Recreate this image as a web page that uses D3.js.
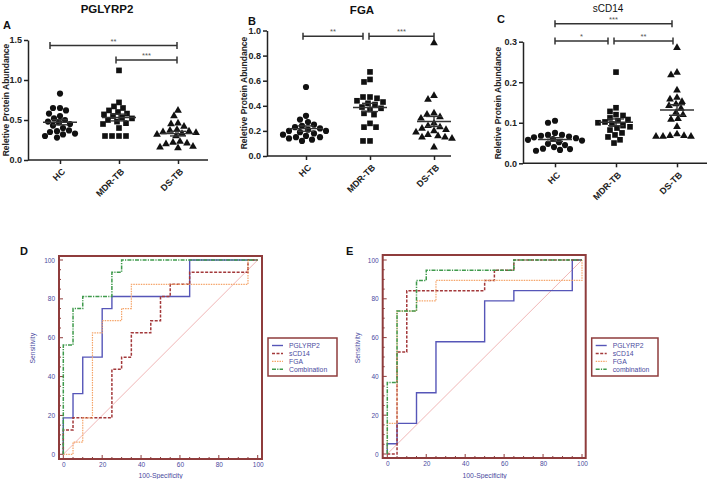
<!DOCTYPE html>
<html>
<head>
<meta charset="utf-8">
<script src="https://cdn.jsdelivr.net/npm/d3@7"></script>
<style>
  body { margin: 0; background: #fff; }
  svg { display: block; font-family: "Liberation Sans", Arial, sans-serif; }
</style>
</head>
<body>
<div id="chart"></div>
<script>
// groups for the scatter panels
var groups = ["HC", "MDR-TB", "DS-TB"];

// PGLYRP2 relative abundance
var pglyrp2HC = [0.83, 0.65, 0.65, 0.62, 0.58, 0.55, 0.52, 0.50, 0.48, 0.47, 0.45, 0.43, 0.40, 0.37, 0.36, 0.35, 0.33, 0.30, 0.28, 0.32];
var pglyrp2MDR = [1.12, 0.72, 0.67, 0.65, 0.62, 0.60, 0.58, 0.57, 0.55, 0.53, 0.52, 0.50, 0.48, 0.46, 0.45, 0.40, 0.30, 0.30, 0.30, 0.30];
var pglyrp2DS = [0.62, 0.55, 0.46, 0.45, 0.42, 0.38, 0.37, 0.36, 0.35, 0.34, 0.33, 0.32, 0.30, 0.23, 0.22, 0.21, 0.20, 0.17, 0.16, 0.15];

// FGA relative abundance
var fgaHC = [0.55, 0.32, 0.29, 0.27, 0.25, 0.24, 0.23, 0.22, 0.21, 0.20, 0.20, 0.19, 0.18, 0.17, 0.16, 0.15, 0.15, 0.14, 0.13, 0.12];
var fgaMDR = [0.67, 0.61, 0.59, 0.47, 0.47, 0.46, 0.44, 0.43, 0.42, 0.41, 0.39, 0.38, 0.37, 0.34, 0.33, 0.26, 0.23, 0.23, 0.12, 0.12];
var fgaDS = [0.90, 0.48, 0.45, 0.34, 0.33, 0.31, 0.30, 0.26, 0.24, 0.23, 0.22, 0.21, 0.20, 0.19, 0.17, 0.16, 0.15, 0.15, 0.14, 0.07];

// sCD14 relative abundance
var scd14HC = [0.105, 0.10, 0.075, 0.07, 0.07, 0.068, 0.066, 0.064, 0.062, 0.06, 0.058, 0.056, 0.052, 0.048, 0.045, 0.04, 0.036, 0.035, 0.033, 0.031];
var scd14MDR = [0.225, 0.137, 0.128, 0.12, 0.118, 0.112, 0.108, 0.105, 0.102, 0.1, 0.097, 0.093, 0.09, 0.087, 0.082, 0.075, 0.07, 0.065, 0.058, 0.05];
var scd14DS = [0.285, 0.224, 0.218, 0.18, 0.162, 0.158, 0.152, 0.146, 0.142, 0.135, 0.125, 0.12, 0.11, 0.108, 0.09, 0.072, 0.068, 0.066, 0.066, 0.066, 0.068];

// y tick values
var ticksA = [0, 0.5, 1.0, 1.5];
var ticksB = [0, 0.2, 0.4, 0.6, 0.8, 1.0];
var ticksC = [0, 0.1, 0.2, 0.3];

// ROC curves, [100-specificity, sensitivity] corner points
var rocDPglyrp2 = [[0, 0], [0, 18.75], [5, 31.25], [10, 50], [20, 75], [25, 81.25], [65, 100], [100, 100]];
var rocDScd14 = [[0, 0], [0, 12.5], [5, 18.75], [25, 43.75], [30, 50], [35, 62.5], [45, 68.75], [50, 81.25], [55, 87.5], [65, 93.75], [95, 100], [100, 100]];
var rocDFga = [[0, 0], [5, 6.25], [10, 18.75], [15, 62.5], [20, 68.75], [30, 75], [35, 87.5], [95, 100], [100, 100]];
var rocDComb = [[0, 0], [0, 56.25], [5, 75], [10, 81.25], [25, 93.75], [30, 100], [100, 100]];

var rocEPglyrp2 = [[0, 0], [0, 5.26], [5, 15.79], [15, 31.58], [25, 57.89], [50, 78.95], [65, 84.21], [95, 100], [100, 100]];
var rocEScd14 = [[0, 0], [5, 52.63], [10, 84.21], [50, 89.47], [55, 94.74], [65, 100], [100, 100]];
var rocEFga = [[0, 0], [0, 15.79], [5, 73.68], [15, 78.95], [25, 89.47], [100, 100]];
var rocEComb = [[0, 0], [0, 36.84], [5, 73.68], [15, 89.47], [20, 94.74], [65, 100], [100, 100]];

var rocTicks = [0, 20, 40, 60, 80, 100];
var legendD = ["PGLYRP2", "sCD14", "FGA", "Combination"];
var legendE = ["PGLYRP2", "sCD14", "FGA", "combination"];

var svg = d3.select("#chart").append("svg").attr("width", 709).attr("height", 479);

var shapes = [d3.symbolCircle, d3.symbolSquare, d3.symbolTriangle];
var shapeSize = [30, 32, 26];

// simple beeswarm: push points sideways until they stop overlapping
function swarm(vals, cx, y, d) {
  var pts = vals.map(function (v) { return { v: v, py: y(v) }; });
  pts.sort(function (a, b) { return b.v - a.v; });
  var placed = [];
  pts.forEach(function (p) {
    for (var k = 0; k < 80; k++) {
      var off = (k % 2 === 0 ? 1 : -1) * Math.ceil(k / 2);
      var px = cx + off;
      var ok = placed.every(function (q) {
        var dx = q.px - px, dy = q.py - p.py;
        return dx * dx + dy * dy >= d * d;
      });
      if (ok) { p.px = px; break; }
    }
    placed.push(p);
  });
  return placed;
}

function scatterPanel(cfg) {
  var g = svg.append("g");
  var x = d3.scalePoint().domain(groups).range(cfg.xRange);
  var y = d3.scaleLinear().domain([0, cfg.yMax]).range([cfg.y0, cfg.y1]);

  // y axis
  var ya = g.append("g")
    .attr("transform", "translate(" + cfg.axisX + ",0)")
    .call(d3.axisLeft(y).tickValues(cfg.ticks).tickFormat(d3.format(".1f")).tickSize(4).tickSizeOuter(0).tickPadding(2));
  ya.selectAll("path, line").attr("stroke", "#222").attr("stroke-width", 1.5);
  ya.selectAll("text").attr("font-size", "9px").attr("font-weight", "bold").attr("fill", "#222");

  // x axis
  g.append("line")
    .attr("x1", cfg.axisX).attr("x2", cfg.axisEnd)
    .attr("y1", cfg.y0).attr("y2", cfg.y0)
    .attr("stroke", "#222").attr("stroke-width", 1.5);
  var xa = g.append("g")
    .attr("transform", "translate(0," + cfg.y0 + ")")
    .call(d3.axisBottom(x).tickSize(4).tickSizeOuter(0));
  xa.select(".domain").remove();
  xa.selectAll("line").attr("stroke", "#222").attr("stroke-width", 1.5);
  xa.selectAll("text")
    .attr("x", 0).attr("y", 0).attr("dy", "0.35em")
    .attr("text-anchor", "end")
    .attr("transform", "translate(3,10) rotate(-45)")
    .attr("font-size", "9px").attr("font-weight", "bold").attr("fill", "#222");

  // points
  cfg.series.forEach(function (vals, i) {
    var cx = x(groups[i]);
    var pts = swarm(vals, cx, y, 6.4);
    g.selectAll(null).data(pts).enter().append("path")
      .attr("d", d3.symbol().type(shapes[i]).size(shapeSize[i]))
      .attr("transform", function (d) { return "translate(" + d.px + "," + d.py + ")"; })
      .attr("fill", "#111");

    // mean and SEM
    var m = d3.mean(vals);
    var se = d3.deviation(vals) / Math.sqrt(vals.length);
    var line = g.append("g").attr("stroke", "#333").attr("stroke-width", 1.4);
    line.append("line").attr("x1", cx - 17).attr("x2", cx + 17).attr("y1", y(m)).attr("y2", y(m));
    line.append("line").attr("x1", cx).attr("x2", cx).attr("y1", y(m - se)).attr("y2", y(m + se));
    [m - se, m + se].forEach(function (v) {
      line.append("line").attr("x1", cx - 8).attr("x2", cx + 8).attr("y1", y(v)).attr("y2", y(v));
    });
  });

  // significance brackets
  cfg.brackets.forEach(function (b) {
    var x1 = x(groups[b[0]]) + b[4], x2 = x(groups[b[1]]) + b[5], yy = y(b[2]);
    var bg = g.append("g").attr("stroke", "#333").attr("stroke-width", 1.5);
    bg.append("line").attr("x1", x1).attr("x2", x2).attr("y1", yy).attr("y2", yy);
    bg.append("line").attr("x1", x1).attr("x2", x1).attr("y1", yy - 3.5).attr("y2", yy + 3.5);
    bg.append("line").attr("x1", x2).attr("x2", x2).attr("y1", yy - 3.5).attr("y2", yy + 3.5);
    g.append("text").attr("x", (x1 + x2) / 2).attr("y", yy - 2)
      .attr("text-anchor", "middle").attr("font-size", "7.5px").attr("fill", "#555")
      .text(b[3]);
  });

  // titles
  g.append("text").attr("x", cfg.titleX).attr("y", cfg.titleY)
    .attr("text-anchor", "middle").attr("font-size", cfg.titleBold ? "11.5px" : "10px")
    .attr("font-weight", cfg.titleBold ? "bold" : "normal").attr("fill", "#111")
    .text(cfg.title);
  g.append("text").attr("x", cfg.letterX).attr("y", cfg.letterY)
    .attr("font-size", "11px").attr("font-weight", "bold").attr("fill", "#111")
    .text(cfg.letter);
  g.append("text")
    .attr("transform", "translate(" + cfg.labelX + "," + cfg.labelY + ") rotate(-90)")
    .attr("text-anchor", "middle").attr("dy", "0.35em")
    .attr("font-size", "8.5px").attr("font-weight", "bold").attr("fill", "#222")
    .text("Reletive Protein Abundance");
}

scatterPanel({
  xRange: [60, 178], axisX: 28, axisEnd: 208, y0: 160, y1: 40, yMax: 1.5, ticks: ticksA,
  series: [pglyrp2HC, pglyrp2MDR, pglyrp2DS],
  brackets: [[0, 2, 1.43, "**", -10, -1], [1, 2, 1.25, "***", -3, -1]],
  title: "PGLYRP2", titleBold: true, titleX: 107, titleY: 13,
  letter: "A", letterX: 3, letterY: 29, labelX: 6, labelY: 100
});

scatterPanel({
  xRange: [306, 434], axisX: 267, axisEnd: 451, y0: 156, y1: 30.5, yMax: 1.0, ticks: ticksB,
  series: [fgaHC, fgaMDR, fgaDS],
  brackets: [[0, 1, 0.955, "**", -3, -7], [1, 2, 0.955, "***", -1, 0]],
  title: "FGA", titleBold: true, titleX: 362, titleY: 14,
  letter: "B", letterX: 248, letterY: 25, labelX: 244, labelY: 93
});

scatterPanel({
  xRange: [555, 677], axisX: 523, axisEnd: 707, y0: 163.3, y1: 41.7, yMax: 0.3, ticks: ticksC,
  series: [scd14HC, scd14MDR, scd14DS],
  brackets: [[0, 2, 0.344, "***", 0, -5], [0, 1, 0.302, "*", 0, -8], [1, 2, 0.302, "**", -2, -4]],
  title: "sCD14", titleBold: false, titleX: 608, titleY: 12,
  letter: "C", letterX: 497, letterY: 23, labelX: 498, labelY: 103
});

// ROC panels
var rocColors = ["#5656b8", "#a3393b", "#f5a56a", "#3f9a4c"];
var rocDash = [null, "3,1.5", "1.5,1", "4,1.2,1.2,1.2"];
var rocWidth = [1.4, 1.5, 1.2, 1.5];
var frameColor = "#8f3c3c";
var textBlue = "#4a4a9e";

function rocPanel(cfg) {
  var g = svg.append("g");
  var x = d3.scaleLinear().domain([0, 100]).range([cfg.ix0, cfg.ix1]);
  var y = d3.scaleLinear().domain([0, 100]).range([cfg.iy0, cfg.iy1]);
  var f = cfg.frame;

  // minor/major ticks inside the frame
  d3.range(0, 101, 5).forEach(function (v) {
    var len = v % 20 === 0 ? 4 : 2;
    g.append("line").attr("x1", f[0]).attr("x2", f[0] + len).attr("y1", y(v)).attr("y2", y(v))
      .attr("stroke", frameColor).attr("stroke-width", 1);
    g.append("line").attr("x1", x(v)).attr("x2", x(v)).attr("y1", f[3]).attr("y2", f[3] - len)
      .attr("stroke", frameColor).attr("stroke-width", 1);
  });

  // diagonal reference
  g.append("line").attr("x1", x(0)).attr("y1", y(0)).attr("x2", x(100)).attr("y2", y(100))
    .attr("stroke", "#eca3a3").attr("stroke-width", 0.8);

  var line = d3.line()
    .x(function (d) { return x(d[0]); })
    .y(function (d) { return y(d[1]); })
    .curve(d3.curveStepAfter);
  cfg.curves.forEach(function (c, i) {
    g.append("path").attr("d", line(c)).attr("fill", "none")
      .attr("stroke", rocColors[i]).attr("stroke-width", rocWidth[i])
      .attr("stroke-dasharray", rocDash[i]);
  });

  g.append("rect").attr("x", f[0]).attr("y", f[1]).attr("width", f[2] - f[0]).attr("height", f[3] - f[1])
    .attr("fill", "none").attr("stroke", frameColor).attr("stroke-width", 2);

  // tick labels
  var ya = g.append("g").attr("transform", "translate(" + f[0] + ",0)")
    .call(d3.axisLeft(y).tickValues(rocTicks).tickSize(0).tickPadding(4));
  var xa = g.append("g").attr("transform", "translate(0," + f[3] + ")")
    .call(d3.axisBottom(x).tickValues(rocTicks).tickSize(0).tickPadding(3));
  [ya, xa].forEach(function (a) {
    a.select(".domain").remove();
    a.selectAll("text").attr("font-size", "6.5px").attr("fill", textBlue);
  });

  g.append("text").attr("x", (cfg.ix0 + cfg.ix1) / 2).attr("y", 478)
    .attr("text-anchor", "middle").attr("font-size", "6.8px").attr("fill", textBlue)
    .text("100-Specificity");
  g.append("text")
    .attr("transform", "translate(" + cfg.sensX + "," + (y(50) - 9) + ") rotate(-90)")
    .attr("text-anchor", "middle").attr("dy", "0.35em")
    .attr("font-size", "6.8px").attr("fill", textBlue)
    .text("Sensitivity");
  g.append("text").attr("x", cfg.letterX).attr("y", 255)
    .attr("font-size", "11px").attr("font-weight", "bold").attr("fill", "#111")
    .text(cfg.letter);

  // legend
  var lg = g.append("g").attr("transform", "translate(" + cfg.legendX + ",338)");
  lg.append("rect").attr("width", cfg.legendW).attr("height", 38)
    .attr("fill", "#fff").attr("stroke", frameColor).attr("stroke-width", 1.5);
  cfg.legend.forEach(function (name, i) {
    var ly = 7.5 + i * 7.9;
    lg.append("line").attr("x1", 4).attr("x2", 15).attr("y1", ly).attr("y2", ly)
      .attr("stroke", rocColors[i]).attr("stroke-width", rocWidth[i])
      .attr("stroke-dasharray", rocDash[i]);
    lg.append("text").attr("x", 21).attr("y", ly).attr("dy", "0.35em")
      .attr("font-size", "6.8px").attr("fill", textBlue).text(name);
  });
}

rocPanel({
  frame: [59, 256, 262, 459], ix0: 63.3, ix1: 257.7, iy0: 454.3, iy1: 260,
  curves: [rocDPglyrp2, rocDScd14, rocDFga, rocDComb], legend: legendD,
  legendX: 268, legendW: 69, sensX: 33, letter: "D", letterX: 20
});

rocPanel({
  frame: [382.7, 255, 585.7, 458], ix0: 387.3, ix1: 582, iy0: 454, iy1: 260,
  curves: [rocEPglyrp2, rocEScd14, rocEFga, rocEComb], legend: legendE,
  legendX: 591.7, legendW: 66.3, sensX: 358, letter: "E", letterX: 346
});
</script>
</body>
</html>
